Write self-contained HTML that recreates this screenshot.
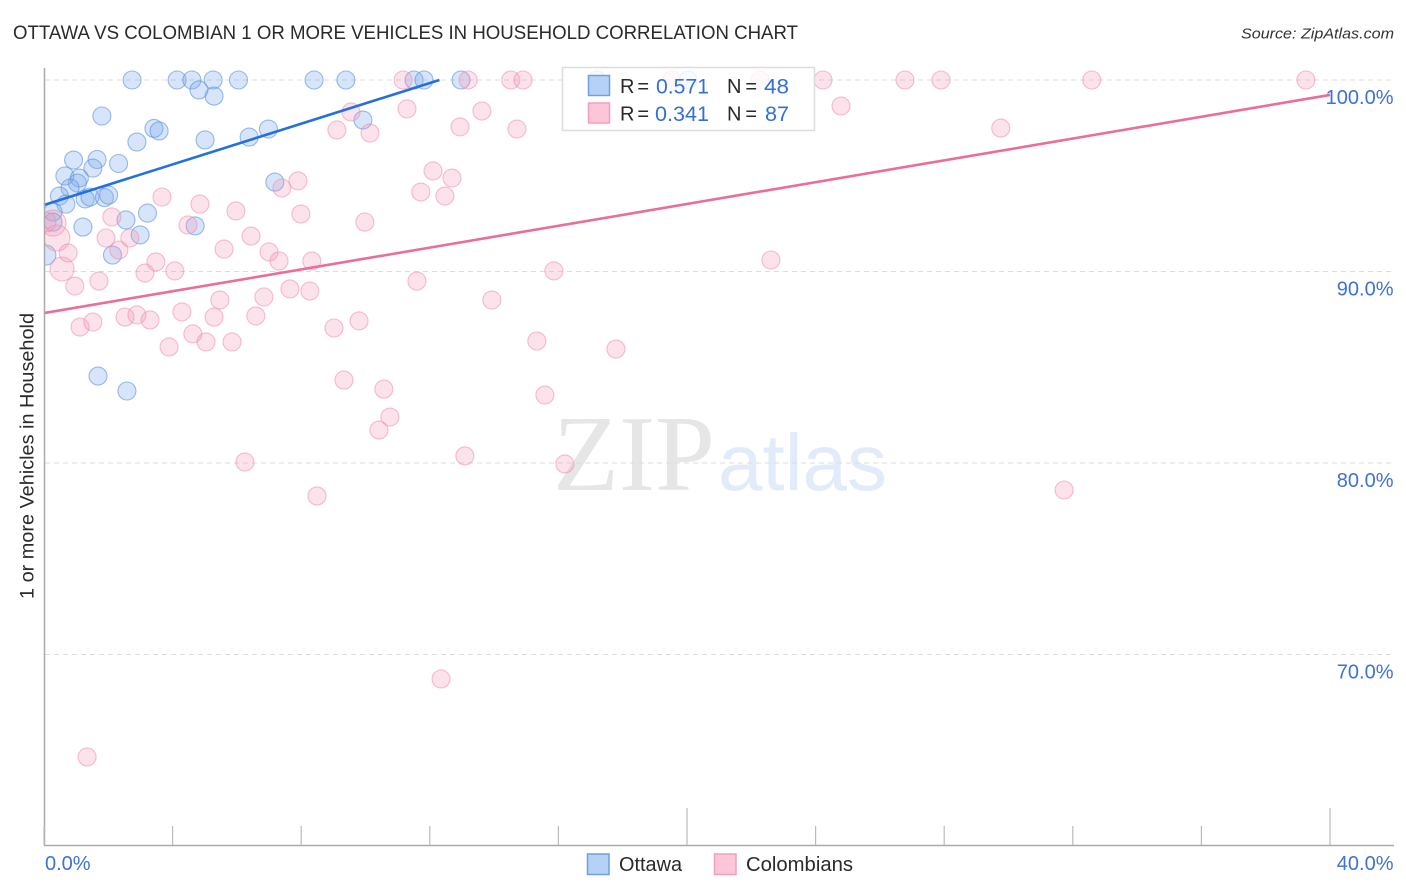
<!DOCTYPE html>
<html lang="en">
<head>
<meta charset="utf-8">
<title>Ottawa vs Colombian correlation chart</title>
<style>
html,body{margin:0;padding:0;background:#fff;width:1406px;height:892px;overflow:hidden}
svg{display:block;font-family:"Liberation Sans",sans-serif}
</style>
</head>
<body>
<svg id="chart" width="1406" height="892" viewBox="0 0 1406 892" xmlns="http://www.w3.org/2000/svg">
  <defs><clipPath id="plot-clip"><rect x="45" y="60" width="1349" height="785"/></clipPath></defs>
  <text x="13" y="39" font-size="19.5" fill="#2a2a2a" textLength="785" lengthAdjust="spacingAndGlyphs">OTTAWA VS COLOMBIAN 1 OR MORE VEHICLES IN HOUSEHOLD CORRELATION CHART</text>
  <text x="1394" y="38.5" font-size="15" font-style="italic" fill="#333" text-anchor="end" textLength="153" lengthAdjust="spacingAndGlyphs">Source: ZipAtlas.com</text>
  <g>
    <text x="553" y="490" font-family="'Liberation Serif',serif" font-size="108" fill="#e6e6e6" textLength="162" lengthAdjust="spacingAndGlyphs">ZIP</text>
    <text x="718" y="490" font-size="80" fill="#e2ebf9" textLength="169" lengthAdjust="spacingAndGlyphs">atlas</text>
  </g>
  <g id="grid"></g>
  <g id="points" clip-path="url(#plot-clip)"></g>
  <g id="trends"></g>
  <g id="axes"></g>
  <text transform="translate(33.5,456) rotate(-90)" font-size="19.5" fill="#2a2a2a" text-anchor="middle" textLength="286" lengthAdjust="spacingAndGlyphs">1 or more Vehicles in Household</text>
  <g>
    <rect x="562.5" y="67.5" width="252" height="63" fill="#fff" fill-opacity="0.8" stroke="#ddd" stroke-width="1.5"/>
    <rect x="588.5" y="75.5" width="21" height="20" fill="#b5d2f6" stroke="#6fa0e2" stroke-width="1.5"/>
    <rect x="588.5" y="103" width="21" height="20" fill="#fcc6d8" stroke="#f0a0bb" stroke-width="1.5"/>
    <g font-size="20" fill="#2a2a2a">
      <text x="620" y="93" textLength="29" lengthAdjust="spacing">R =</text>
      <text x="727" y="93" textLength="30" lengthAdjust="spacing">N =</text>
      <text x="620" y="120.500" textLength="29" lengthAdjust="spacing">R =</text>
      <text x="727" y="120.500" textLength="30" lengthAdjust="spacing">N =</text>
    </g>
    <g font-size="21.500" fill="#3370d6">
      <text x="656" y="93.500" textLength="53" lengthAdjust="spacingAndGlyphs">0.571</text>
      <text x="764" y="93.500" textLength="25" lengthAdjust="spacingAndGlyphs">48</text>
      <text x="655" y="121" textLength="54" lengthAdjust="spacingAndGlyphs">0.341</text>
      <text x="765" y="121" textLength="24" lengthAdjust="spacingAndGlyphs">87</text>
    </g>
  </g>
  <g>
    <rect x="587.5" y="854" width="21.500" height="20.500" fill="#b5d2f6" stroke="#6fa0e2" stroke-width="1.500"/>
    <text x="619" y="871" font-size="20" fill="#2a2a2a" textLength="63" lengthAdjust="spacingAndGlyphs">Ottawa</text>
    <rect x="714.500" y="854" width="21.500" height="20.500" fill="#fcc6d8" stroke="#f0a0bb" stroke-width="1.500"/>
    <text x="746" y="871" font-size="20" fill="#2a2a2a" textLength="107" lengthAdjust="spacingAndGlyphs">Colombians</text>
  </g>
</svg>
<script>
const yTickValues = [100, 90, 80, 70];
const yTickLabels = ["100.0%", "90.0%", "80.0%", "70.0%"];
const xTickValues = [0, 4, 8, 12, 16, 20, 24, 28, 32, 36, 40];
const xMajorTicks = [20, 40];
const xEndLabels = ["0.0%", "40.0%"];

const ottawaX = [2.74,4.14,4.60,5.26,6.05,8.40,9.39,11.51,11.82,12.97,17.20,20.03,4.82,5.29,1.80,3.42,3.58,2.89,5.01,6.38,6.98,9.92,0.92,1.65,2.32,1.52,0.65,1.10,1.04,0.81,0.48,0.68,1.28,1.43,1.88,2.01,7.18,3.22,2.55,0.28,0.28,1.21,2.99,4.70,2.13,0.06,1.68,2.58];
const ottawaY = [100,100,100,100,100,100,100,100,100,100,100,100,99.48,99.16,98.12,97.47,97.34,96.76,96.87,97.02,97.44,97.91,95.82,95.85,95.64,95.40,94.99,94.88,94.62,94.36,93.94,93.52,93.79,93.89,93.86,93.99,94.67,93.05,92.69,93.11,92.58,92.32,91.91,92.38,90.86,90.86,84.54,83.76];
const ottawaSize = [9,9,9,9,9,9,9,9,9,9,9,9,9,9,9,9,9,9,9,9,9,9,9,9,9,9,9,9,9,9,9,9,9,9,9,9,9,9,9,9,9,9,9,9,9,10,9,9];

const colombianX = [0.28,0.40,0.56,0.75,0.96,1.71,2.11,1.93,2.33,2.67,3.67,4.85,4.48,5.97,5.60,6.44,7.00,7.31,8.33,7.40,7.90,7.99,9.11,9.55,3.48,3.14,4.07,5.47,6.84,7.65,8.27,4.29,5.29,6.59,9.02,1.12,1.52,2.52,2.89,3.30,4.63,3.89,5.04,5.85,11.17,13.19,14.52,14.90,24.23,19.53,22.27,11.29,13.62,12.94,14.71,10.14,12.10,12.69,11.72,12.47,24.79,26.78,27.90,32.59,39.25,29.76,22.61,15.86,11.60,13.93,15.33,17.79,9.80,9.33,10.57,15.58,10.76,10.42,13.09,16.20,6.25,8.49,31.73,12.35,1.34,9.98,0.06];
const colombianY = [92.53,91.75,90.13,90.97,89.24,89.50,92.85,91.75,91.12,91.75,93.89,93.52,92.43,93.16,91.17,91.85,91.02,90.55,90.55,94.36,94.73,93.00,97.39,98.33,90.50,89.92,90.03,88.51,88.67,89.09,88.98,87.89,87.62,87.68,87.05,87.10,87.36,87.62,87.73,87.47,86.74,86.06,86.32,86.32,100,100,100,100,100,100,100,98.49,98.38,97.55,97.44,97.23,95.25,94.88,94.15,93.94,98.64,100,100,100,100,97.49,90.60,90.03,89.50,88.51,86.37,85.95,87.42,84.33,83.86,83.55,82.40,81.72,80.37,79.95,80.05,78.28,78.59,68.72,64.65,92.58,92.58];
const colombianSize = [13,13,12,9,9,9,9,9,9,9,9,9,9,9,9,9,9,9,9,9,9,9,9,9,9,9,9,9,9,9,9,9,9,9,9,9,9,9,9,9,9,9,9,9,9,9,9,9,9,9,9,9,9,9,9,9,9,9,9,9,9,9,9,9,9,9,9,9,9,9,9,9,9,9,9,9,9,9,9,9,9,9,9,9,9,9,10];

const ottawaTrendX = [0, 12.3];
const ottawaTrendY = [93.47, 100];
const colombianTrendX = [0, 40];
const colombianTrendY = [87.83, 99.22];

const xScale = v => 44 + v * 32.15;
const yScale = v => 80 + (100 - v) * 19.15;
const NS = "http://www.w3.org/2000/svg";
function make(parent, tag, attrs, text) {
  const el = document.createElementNS(NS, tag);
  for (const k in attrs) el.setAttribute(k, attrs[k]);
  if (text !== undefined) el.textContent = text;
  parent.appendChild(el);
  return el;
}

const grid = document.getElementById("grid");
yTickValues.forEach(function (v) {
  const line = make(grid, "line", {x1: 45, x2: 1394, y1: yScale(v), y2: yScale(v), stroke: "#dcdcdc", "stroke-width": 1, "stroke-dasharray": "5 4"});
  
  
});

const points = document.getElementById("points");
ottawaX.forEach(function (x, i) {
  const c = make(points, "circle", {cx: xScale(x), cy: yScale(ottawaY[i]), r: ottawaSize[i], fill: "#78aaec", "fill-opacity": 0.3, stroke: "#5b90de", "stroke-opacity": 0.6, "stroke-width": 1.1});
  
  
});
colombianX.forEach(function (x, i) {
  const c = make(points, "circle", {cx: xScale(x), cy: yScale(colombianY[i]), r: colombianSize[i], fill: "#f598b8", "fill-opacity": 0.28, stroke: "#ec8aac", "stroke-opacity": 0.55, "stroke-width": 1.1});
  
  
});

const trends = document.getElementById("trends");
const ottawaTrend = make(trends, "line", {x1: xScale(ottawaTrendX[0]), y1: yScale(ottawaTrendY[0]), x2: xScale(ottawaTrendX[1]), y2: yScale(ottawaTrendY[1]), stroke: "#2470dc", "stroke-width": 2.6});


const colombianTrend = make(trends, "line", {x1: xScale(colombianTrendX[0]), y1: yScale(colombianTrendY[0]), x2: xScale(colombianTrendX[1]), y2: yScale(colombianTrendY[1]), stroke: "#ea6d9b", "stroke-width": 2.6});



const axes = document.getElementById("axes");
const yAxis = make(axes, "line", {x1: 44.5, x2: 44.5, y1: 68, y2: 846, stroke: "#aaa", "stroke-width": 1.5});


const xAxis = make(axes, "line", {x1: 44, x2: 1394, y1: 845.5, y2: 845.5, stroke: "#aaa", "stroke-width": 1.5});


xTickValues.forEach(function (v) {
  const top = xMajorTicks.includes(v) ? 808 : 826;
  const t = make(axes, "line", {x1: xScale(v), x2: xScale(v), y1: top, y2: 845, stroke: "#bbb", "stroke-width": 1.2});
  
  
});
yTickValues.forEach(function (v, i) {
  const t = make(axes, "text", {x: 1393.5, y: yScale(v) + 24, "font-size": 20, fill: "#3d72d8", "text-anchor": "end"}, yTickLabels[i]);
  
  
});
const xLabelLeft = make(axes, "text", {x: xScale(xTickValues[0]) + 1, y: 870, "font-size": 20, fill: "#3d72d8"}, xEndLabels[0]);


const xLabelRight = make(axes, "text", {x: 1393.5, y: 870, "font-size": 20, fill: "#3d72d8", "text-anchor": "end"}, xEndLabels[1]);


</script>
</body>
</html>
